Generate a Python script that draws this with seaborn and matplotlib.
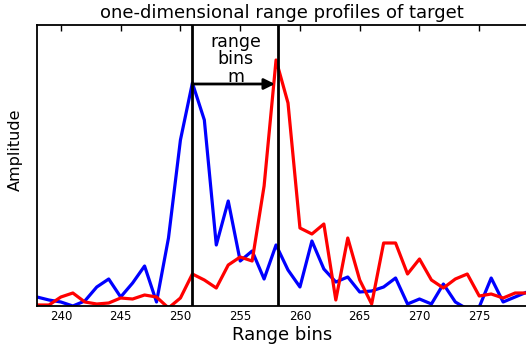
import numpy as np
import pandas as pd
import matplotlib
matplotlib.use("Agg")
import matplotlib.pyplot as plt
import seaborn as sns

range_bins = list(range(238, 280))
blue_amp = [9, 6, 4, 0, 5, 19, 27, 9, 23, 40, 4, 68,
            166, 223, 186, 61, 105, 45, 55, 27, 61, 36,
            19, 65, 37, 24, 29, 14, 15, 19, 28, 2, 7, 2, 22, 4, -3, -1, 28, 4, 9, 14]
red_amp = [1, 1, 9, 13, 4, 2, 3, 8, 7, 11, 9, -2,
           8, 32, 26, 18, 41, 49, 45, 120, 246, 203,
           78, 72, 82, 6, 68, 26, 2, 63, 63, 32, 47, 26, 18, 27, 32, 10, 12, 8, 13, 13]
x_ticks = [240, 245, 250, 255, 260, 265, 270, 275]
marker_bins = [251, 258.2]
title_text = "one-dimensional range profiles of target"
xlabel_text = "Range bins"
ylabel_text = "Amplitude"
note_text = "range\nbins\nm"

sns.set_style("white")
plt.rcParams['font.family'] = ['DejaVu Sans']
plt.rcParams['text.color'] = 'black'
plt.rcParams['axes.labelcolor'] = 'black'
plt.rcParams['xtick.color'] = 'black'
plt.rcParams['ytick.color'] = 'black'

df = pd.DataFrame({"bin": range_bins * 2,
                   "amp": blue_amp + red_amp,
                   "series": ["blue"] * len(range_bins) + ["red"] * len(range_bins)})

fig = plt.figure(figsize=(5.26, 3.45), dpi=100)
ax = fig.add_axes([37/526, 39/345, 1 - 37/526 + 0.002, 281/345])

sns.lineplot(data=df, x="bin", y="amp", hue="series",
             palette={"blue": "#0000ff", "red": "#ff0000"},
             linewidth=2.3, legend=False, ax=ax)

for b in marker_bins:
    ax.axvline(b, color="black", linewidth=2.0)

ax.annotate("", xy=(257.9, 222), xytext=(251, 222),
            arrowprops=dict(arrowstyle="-|>", color="black", lw=2.0,
                            mutation_scale=16, shrinkA=0, shrinkB=0))
ax.text(254.6, 273, note_text, ha="center", va="top", fontsize=12.5,
        linespacing=0.95, color="black")

ax.set_xlim(238, 279)
ax.set_ylim(0, 281)
ax.set_xticks(x_ticks)
ax.set_xticklabels([str(t) for t in x_ticks], fontsize=8.5, color="black")
ax.set_yticks([])
ax.tick_params(axis="x", direction="in", top=True, length=4, width=1, pad=3,
               colors="black")
for s in ["left", "bottom", "top"]:
    ax.spines[s].set_color("black")
    ax.spines[s].set_linewidth(1.3)
ax.spines["right"].set_visible(False)

ax.set_title(title_text, fontsize=13, pad=5, color="black")
ax.set_xlabel(xlabel_text, fontsize=13, labelpad=2, color="black")
ax.set_ylabel(ylabel_text, fontsize=11.5, color="black")
ax.yaxis.set_label_coords((23 - 37) / 489, (306 - 150) / 281)

fig.savefig("out.png", dpi=100)
